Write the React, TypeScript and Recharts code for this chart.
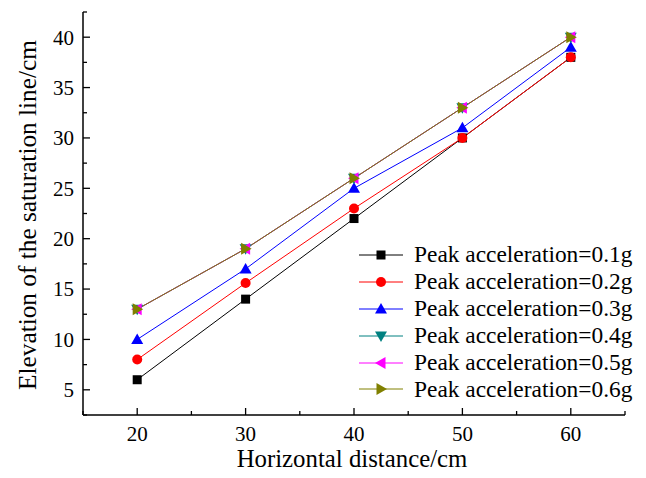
import { Label, Legend, Line, LineChart, XAxis, YAxis } from "recharts";

// horizontal distance (cm)
const distances = [20, 30, 40, 50, 60];

// elevation of the saturation line (cm) per peak acceleration
const peak01 = [6, 14, 22, 30, 38];
const peak02 = [8, 15.6, 23, 30, 38];
const peak03 = [10, 17, 25, 31, 39];
const peak04 = [13, 19, 26, 33, 40];
const peak05 = [13, 19, 26, 33, 40];
const peak06 = [13, 19, 26, 33, 40];

const seriesNames = [
  "Peak acceleration=0.1g",
  "Peak acceleration=0.2g",
  "Peak acceleration=0.3g",
  "Peak acceleration=0.4g",
  "Peak acceleration=0.5g",
  "Peak acceleration=0.6g",
];

const xTicks = [15, 20, 25, 30, 35, 40, 45, 50, 55, 60, 65];
const xMajor = [20, 30, 40, 50, 60];
const yTicks = [2.5, 5, 7.5, 10, 12.5, 15, 17.5, 20, 22.5, 25, 27.5, 30, 32.5, 35, 37.5, 40, 42.5];
const yMajor = [5, 10, 15, 20, 25, 30, 35, 40];

const FONT = '"Liberation Serif", "Times New Roman", serif';

type Shape = "square" | "circle" | "up" | "down" | "left" | "right";

const series: { key: string; name: string; color: string; shape: Shape; values: number[] }[] = [
  { key: "s1", name: seriesNames[0], color: "#000000", shape: "square", values: peak01 },
  { key: "s2", name: seriesNames[1], color: "#ff0000", shape: "circle", values: peak02 },
  { key: "s3", name: seriesNames[2], color: "#0000ff", shape: "up", values: peak03 },
  { key: "s4", name: seriesNames[3], color: "#008080", shape: "down", values: peak04 },
  { key: "s5", name: seriesNames[4], color: "#ff00ff", shape: "left", values: peak05 },
  { key: "s6", name: seriesNames[5], color: "#808000", shape: "right", values: peak06 },
];

const data = distances.map((d, i) => {
  const row: Record<string, number> = { x: d };
  series.forEach((s) => {
    row[s.key] = s.values[i];
  });
  return row;
});

const Marker = ({ cx, cy, shape, color }: { cx: number; cy: number; shape: Shape; color: string }) => {
  if (cx == null || cy == null) return null;
  const a = 6;
  const b = 4.5;
  switch (shape) {
    case "square":
      return <rect x={cx - 4.5} y={cy - 4.5} width={9} height={9} fill={color} />;
    case "circle":
      return <circle cx={cx} cy={cy} r={5} fill={color} />;
    case "up":
      return <polygon points={`${cx},${cy - a} ${cx + a},${cy + b} ${cx - a},${cy + b}`} fill={color} />;
    case "down":
      return <polygon points={`${cx},${cy + a} ${cx + a},${cy - b} ${cx - a},${cy - b}`} fill={color} />;
    case "left":
      return <polygon points={`${cx - a},${cy} ${cx + b},${cy - a} ${cx + b},${cy + a}`} fill={color} />;
    default:
      return <polygon points={`${cx + a},${cy} ${cx - b},${cy - a} ${cx - b},${cy + a}`} fill={color} />;
  }
};

// ticks point inward, minor ticks unlabeled
const XTick = (props: any) => {
  const { x, y, payload } = props;
  const major = xMajor.includes(payload.value);
  return (
    <g>
      <line x1={x} x2={x} y1={y} y2={y - (major ? 7 : 4)} stroke="#000" strokeWidth={1.3} />
      {major && (
        <text x={x} y={y + 11} dy="0.71em" textAnchor="middle" fontFamily={FONT} fontSize={21} fill="#000">
          {payload.value}
        </text>
      )}
    </g>
  );
};

const YTick = (props: any) => {
  const { x, y, payload } = props;
  const major = yMajor.includes(payload.value);
  return (
    <g>
      <line x1={x} x2={x + (major ? 7 : 4)} y1={y} y2={y} stroke="#000" strokeWidth={1.3} />
      {major && (
        <text x={x - 9} y={y} dy="0.35em" textAnchor="end" fontFamily={FONT} fontSize={21} fill="#000">
          {payload.value}
        </text>
      )}
    </g>
  );
};

const renderLegend = () => (
  <div style={{ fontFamily: FONT, fontSize: 23.4, color: "#000" }}>
    {series.map((s) => (
      <div key={s.key} style={{ display: "flex", alignItems: "center", height: 26.9 }}>
        <svg width={48} height={20} style={{ display: "block" }}>
          <line x1={2} x2={46} y1={10} y2={10} stroke={s.color} strokeWidth={1} />
          <Marker cx={24} cy={10} shape={s.shape} color={s.color} />
        </svg>
        <span style={{ marginLeft: 9, whiteSpace: "nowrap", lineHeight: 1 }}>{s.name}</span>
      </div>
    ))}
  </div>
);

export default function App() {
  return (
    <div style={{ position: "absolute", left: 0, top: 0, background: "#fff" }}>
      <LineChart width={646} height={478} data={data} margin={{ top: 12, right: 21, left: 0, bottom: 0 }}>
        <XAxis
          dataKey="x"
          type="number"
          domain={[15, 65]}
          ticks={xTicks}
          interval={0}
          height={63}
          tickSize={0}
          tickMargin={0}
          tick={<XTick />}
          axisLine={{ stroke: "#000", strokeWidth: 1.5 }}
        >
          <Label
            content={({ viewBox }: any) => (
              <text
                x={viewBox.x + viewBox.width / 2 - 2}
                y={viewBox.y + 52}
                textAnchor="middle"
                fontFamily={FONT}
                fontSize={24.8}
                fill="#000"
              >
                Horizontal distance/cm
              </text>
            )}
          />
        </XAxis>
        <YAxis
          type="number"
          domain={[2.5, 42.5]}
          ticks={yTicks}
          interval={0}
          width={83}
          tickSize={0}
          tickMargin={0}
          tick={<YTick />}
          axisLine={{ stroke: "#000", strokeWidth: 1.5 }}
        >
          <Label
            content={({ viewBox }: any) => {
              const cx = 27;
              const cy = viewBox.y + viewBox.height / 2 + 1.5;
              return (
                <text
                  x={cx}
                  y={cy}
                  dy="0.35em"
                  textAnchor="middle"
                  transform={`rotate(-90, ${cx}, ${cy})`}
                  fontFamily={FONT}
                  fontSize={25.3}
                  fill="#000"
                >
                  Elevation of the saturation line/cm
                </text>
              );
            }}
          />
        </YAxis>
        <Legend
          layout="vertical"
          align="center"
          verticalAlign="middle"
          content={renderLegend}
          wrapperStyle={{ left: 357, top: 241.5, width: 289, height: 165 }}
        />
        {series.map((s) => (
          <Line
            key={s.key}
            dataKey={s.key}
            name={s.name}
            stroke={s.color}
            strokeWidth={1}
            isAnimationActive={false}
            dot={(p: any) => (
              <Marker key={`${s.key}-${p.index}`} cx={p.cx} cy={p.cy} shape={s.shape} color={s.color} />
            )}
            activeDot={false}
          />
        ))}
      </LineChart>
    </div>
  );
}
